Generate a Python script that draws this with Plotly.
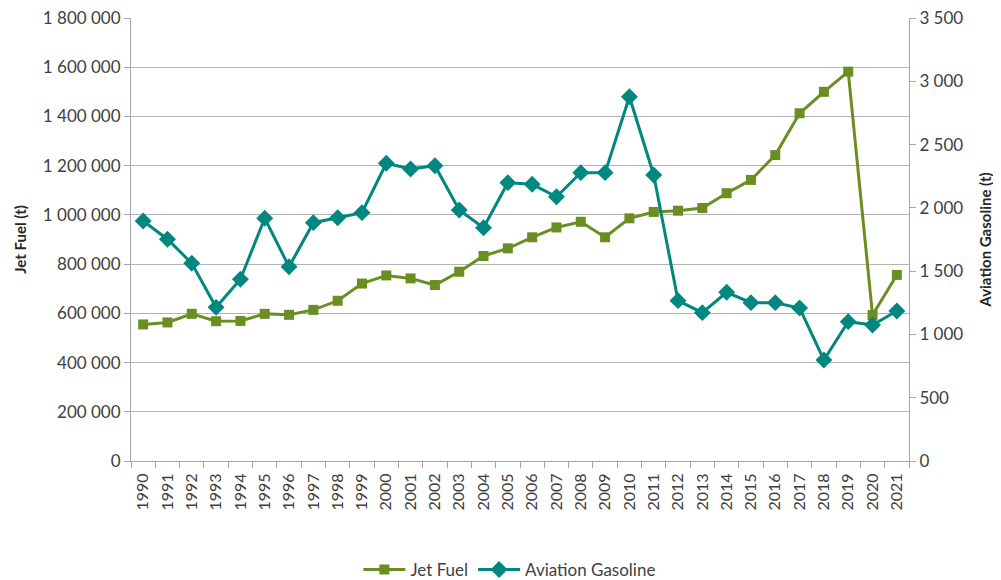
import plotly.graph_objects as go

years = [str(y) for y in range(1990, 2022)]
jet_fuel = [555000, 563000, 598000, 568000, 569000, 598000, 594000, 614000, 651000, 721000,
            754000, 742000, 715000, 769000, 833000, 864000, 909000, 949000, 972000, 909000,
            986000, 1012000, 1017000, 1028000, 1088000, 1142000, 1243000, 1413000, 1500000, 1582000,
            593000, 756000]
avgas = [1896, 1752, 1562, 1214, 1436, 1918, 1535, 1883, 1922, 1962,
         2352, 2307, 2333, 1983, 1843, 2199, 2186, 2088, 2278, 2278,
         2878, 2260, 1267, 1172, 1333, 1251, 1251, 1209, 798, 1101,
         1075, 1185]

JET = "#6B8E23"
AVG = "#00877F"
FONT = "Lato, 'Open Sans', sans-serif"

fig = go.Figure()
fig.add_trace(go.Scatter(x=years, y=jet_fuel, name="Jet Fuel", mode="lines+markers",
                         line=dict(color=JET, width=3),
                         marker=dict(symbol="square", size=10, color=JET), yaxis="y"))
fig.add_trace(go.Scatter(x=years, y=avgas, name="Aviation Gasoline", mode="lines+markers",
                         line=dict(color=AVG, width=3),
                         marker=dict(symbol="diamond", size=13, color=AVG), yaxis="y2"))

# page body has an 8px margin; figure sized to fit the 1001x580 window
fig.update_layout(
    width=993, height=572,
    margin=dict(l=123, r=92, t=10, b=119, autoexpand=False),
    paper_bgcolor="white", plot_bgcolor="white",
    separators=". ",
    font=dict(family=FONT, size=16, color="#404040"),
    xaxis=dict(type="category", range=[-0.5, 31.5], tickangle=-90, automargin=False,
               showline=True, linecolor="#A6A6A6", linewidth=1,
               ticks="outside", tickson="boundaries", ticklen=6, tickcolor="#A6A6A6",
               ticklabelstandoff=5,
               showgrid=False, tickfont=dict(size=16, color="#404040")),
    yaxis=dict(range=[0, 1800000], dtick=200000, tickformat=",d", automargin=False,
               ticklabeloverflow="allow",
               showline=True, linecolor="#A6A6A6", ticks="outside", ticklen=6, tickcolor="#A6A6A6",
               gridcolor="#B3B3B3", gridwidth=1, zeroline=False,
               title=dict(text="<b>Jet Fuel (t)</b>", font=dict(size=15, color="#262626"), standoff=12),
               tickfont=dict(size=17, color="#404040")),
    yaxis2=dict(range=[0, 3500], dtick=500, tickformat=",d", overlaying="y", side="right",
                automargin=False, ticklabeloverflow="allow",
                showline=True, linecolor="#A6A6A6", ticks="outside", ticklen=6, tickcolor="#A6A6A6",
                showgrid=False, zeroline=False,
                title=dict(text="<b>Aviation Gasoline (t)</b>", font=dict(size=15, color="#262626"), standoff=18),
                tickfont=dict(size=17, color="#404040")),
    legend=dict(orientation="h", xref="paper", x=0.487, xanchor="center",
                yref="container", y=0.0175, yanchor="middle",
                font=dict(size=17, color="#404040"), itemwidth=42),
    showlegend=True,
)

fig.write_html("out.html")
